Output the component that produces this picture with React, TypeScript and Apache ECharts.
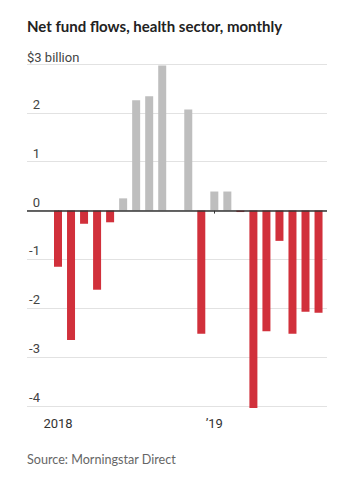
import React, { useEffect, useRef } from "react";
import * as echarts from "echarts";

const months = [
  "2018-01", "2018-02", "2018-03", "2018-04", "2018-05", "2018-06", "2018-07",
  "2018-08", "2018-09", "2018-10", "2018-11", "2018-12", "2019-01", "2019-02",
  "2019-03", "2019-04", "2019-05", "2019-06", "2019-07", "2019-08", "2019-09",
];
const flows: (number | null)[] = [
  -1.15, -2.65, -0.27, -1.62, -0.24, 0.25, 2.26, 2.34, 2.97, null, 2.07, -2.52,
  0.39, 0.39, -0.03, -4.04, -2.47, -0.62, -2.52, -2.07, -2.09,
];
const xTickIndex = [0, 12];
const xTickLabels = ["2018", "\u201919"];
const yMin = -4;
const yMax = 3;
const title = "Net fund flows, health sector, monthly";
const unitLabel = "$3 billion";
const source = "Source: Morningstar Direct";

const RED = "#d1303b";
const GRAY = "#bebebe";
const FONT = "'Liberation Sans Narrow', Roboto, sans-serif";

export default function App() {
  const ref = useRef<HTMLDivElement>(null);
  useEffect(() => {
    if (!ref.current) return;
    const chart = echarts.init(ref.current, undefined, { renderer: "svg" });
    const data = flows.map((v, i) => ({
      value: [i, v],
      itemStyle: { color: v !== null && v < 0 ? RED : GRAY },
    }));
    chart.setOption({
      animation: false,
      backgroundColor: "#fff",
      title: {
        text: title,
        left: 27,
        top: 18,
        padding: 0,
        textStyle: { fontFamily: "Lato, 'Open Sans', sans-serif", fontWeight: "bold", fontSize: 15, color: "#222" },
      },
      graphic: [
        {
          type: "text",
          left: 27,
          top: 51,
          style: { text: unitLabel, font: `13px ${FONT}`, fill: "#444" },
        },
        {
          type: "text",
          left: 27,
          top: 453,
          style: { text: source, font: `12.6px Lato, sans-serif`, fill: "#666" },
        },
      ],
      grid: { left: 27, right: 25, top: 64, bottom: 76 },
      xAxis: {
        type: "value",
        min: -2.38,
        max: 20.65,
        offset: 5,
        axisLine: { show: false },
        splitLine: { show: false },
        axisTick: { show: true, customValues: xTickIndex, length: 3, lineStyle: { color: "#333" } },
        axisLabel: {
          customValues: xTickIndex,
          margin: 6,
          formatter: (v: number) => xTickLabels[xTickIndex.indexOf(Math.round(v))] ?? "",
          fontFamily: FONT,
          fontSize: 13,
          color: "#333",
        },
      },
      yAxis: {
        type: "value",
        min: yMin,
        max: yMax,
        interval: 1,
        axisLine: { show: false },
        axisTick: { show: false },
        splitLine: { lineStyle: { color: "#e2e2e2", width: 1 } },
        axisLabel: {
          inside: true,
          align: "right",
          verticalAlign: "bottom",
          margin: 13,
          padding: [0, 0, 2, 0],
          formatter: (v: number) => (v === yMax ? "" : String(v)),
          fontFamily: FONT,
          fontSize: 13,
          color: "#444",
        },
      },
      series: [
        {
          type: "bar",
          data,
          barWidth: 8,
          clip: false,
          markLine: {
            silent: true,
            symbol: "none",
            label: { show: false },
            lineStyle: { color: "#333", width: 1.5, type: "solid" },
            data: [{ yAxis: 0 }],
          },
        },
      ],
    });
    return () => chart.dispose();
  }, []);
  return <div ref={ref} style={{ position: "fixed", left: 0, top: 0, width: 352, height: 482 }} />;
}
